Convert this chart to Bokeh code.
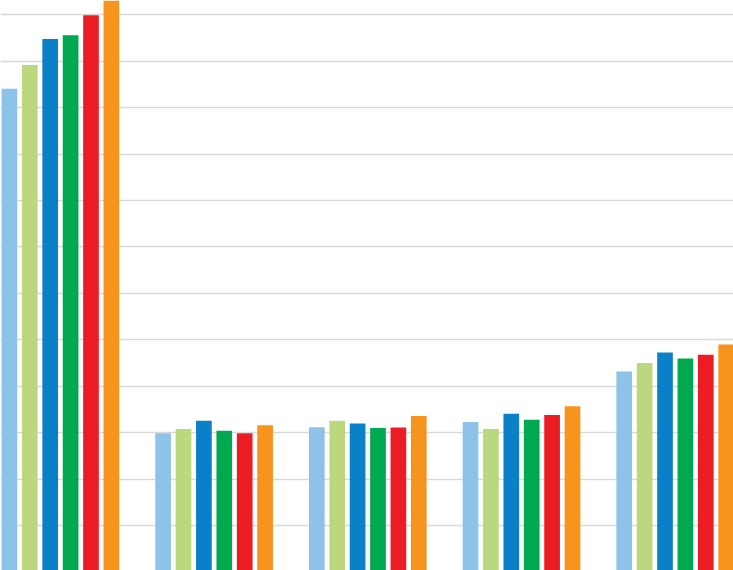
from bokeh.plotting import figure
from bokeh.models import Range1d, Grid, FixedTicker, ColumnDataSource
from bokeh.embed import file_html
from bokeh.resources import INLINE

groups = ["Group 1", "Group 2", "Group 3", "Group 4", "Group 5"]
series = ["Series 1", "Series 2", "Series 3", "Series 4", "Series 5", "Series 6"]
s1 = [10.41, 2.99, 3.12, 3.23, 4.32]
s2 = [10.92, 3.08, 3.26, 3.08, 4.50]
s3 = [11.48, 3.26, 3.20, 3.41, 4.73]
s4 = [11.56, 3.04, 3.10, 3.28, 4.60]
s5 = [11.99, 2.99, 3.11, 3.38, 4.68]
s6 = [12.45, 3.16, 3.36, 3.57, 4.90]
values = [s1, s2, s3, s4, s5, s6]
colors = ["#8dc3e9", "#bbd87f", "#0a80c8", "#00a84f", "#ec1c24", "#f7941d"]
grid_ticks = list(range(0, 14))

p = figure(width=733, height=570, output_backend="svg", toolbar_location=None,
           x_range=Range1d(-0.3897, 4.3793), y_range=Range1d(0.0323, 12.309),
           x_axis_location=None, y_axis_location=None, min_border=0,
           outline_line_color=None, background_fill_color="white",
           border_fill_color="white")
p.grid.visible = False
p.add_layout(Grid(dimension=1, ticker=FixedTicker(ticks=grid_ticks),
                  grid_line_color="#d9d9d9", grid_line_width=1.5))

step = 0.1327
width = 0.102
for j, (name, vals, col) in enumerate(zip(series, values, colors)):
    xs = [i + (j - 2.5) * step for i in range(len(groups))]
    src = ColumnDataSource(dict(x=xs, top=vals, group=groups))
    p.vbar(x="x", top="top", bottom=0, width=width, source=src,
           fill_color=col, line_color=None)

open("out.html", "w").write(file_html(p, INLINE))
